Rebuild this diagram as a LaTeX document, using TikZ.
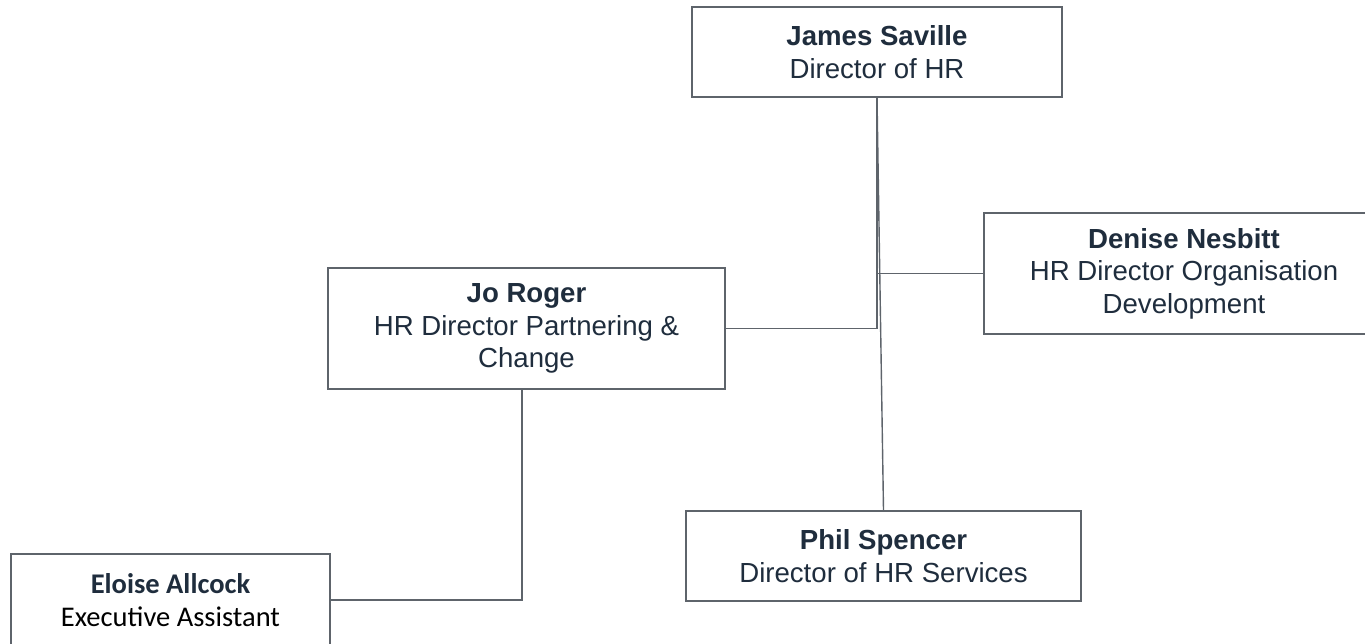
\documentclass[tikz,border=0pt]{standalone}
\usepackage{fontspec}
\setmainfont{Liberation Sans}
\newfontfamily\calibri{Carlito}
\definecolor{navy}{HTML}{1F2D3D}
\definecolor{edge}{HTML}{5E646B}
\begin{document}
\begin{tikzpicture}[x=1pt,y=-1pt,
  person/.style={draw=edge, line width=1.4pt, fill=white, inner sep=0pt, align=center,
    text=navy, font={\fontsize{27.6}{32.5}\selectfont}},
  link/.style={draw=edge, line width=1.4pt}]
\useasboundingbox (0,0) rectangle (1365,643);
\node[person, minimum width=370pt, minimum height=90pt] (james) at (877,52)
  {\textbf{James Saville}\\Director of HR};
\node[person, minimum width=400pt, minimum height=121pt] (denise) at (1184,273.5)
  {\textbf{Denise Nesbitt}\\HR Director Organisation\\Development};
\node[person, minimum width=397pt, minimum height=121pt] (jo) at (526.5,328.5)
  {\textbf{Jo Roger}\\HR Director Partnering \&\\Change};
\node[person, minimum width=395pt, minimum height=90pt] (phil) at (883.5,556)
  {\textbf{Phil Spencer}\\Director of HR Services};
\node[person, minimum width=319pt, minimum height=92pt, font={\calibri\fontsize{28.5}{33}\selectfont}] (eloise) at (170.5,600)
  {\textbf{Eloise Allcock}\\\textcolor{black}{Executive Assistant}};
\coordinate (dj) at (877,273.5);
\draw[link] (james.south) |- (jo.east);
\draw[link] (dj) -- (denise.west);
\draw[link] (james.south) -- (phil.north);
\draw[link] ([xshift=-4.5pt]jo.south) |- (eloise.east);
\end{tikzpicture}
\end{document}
